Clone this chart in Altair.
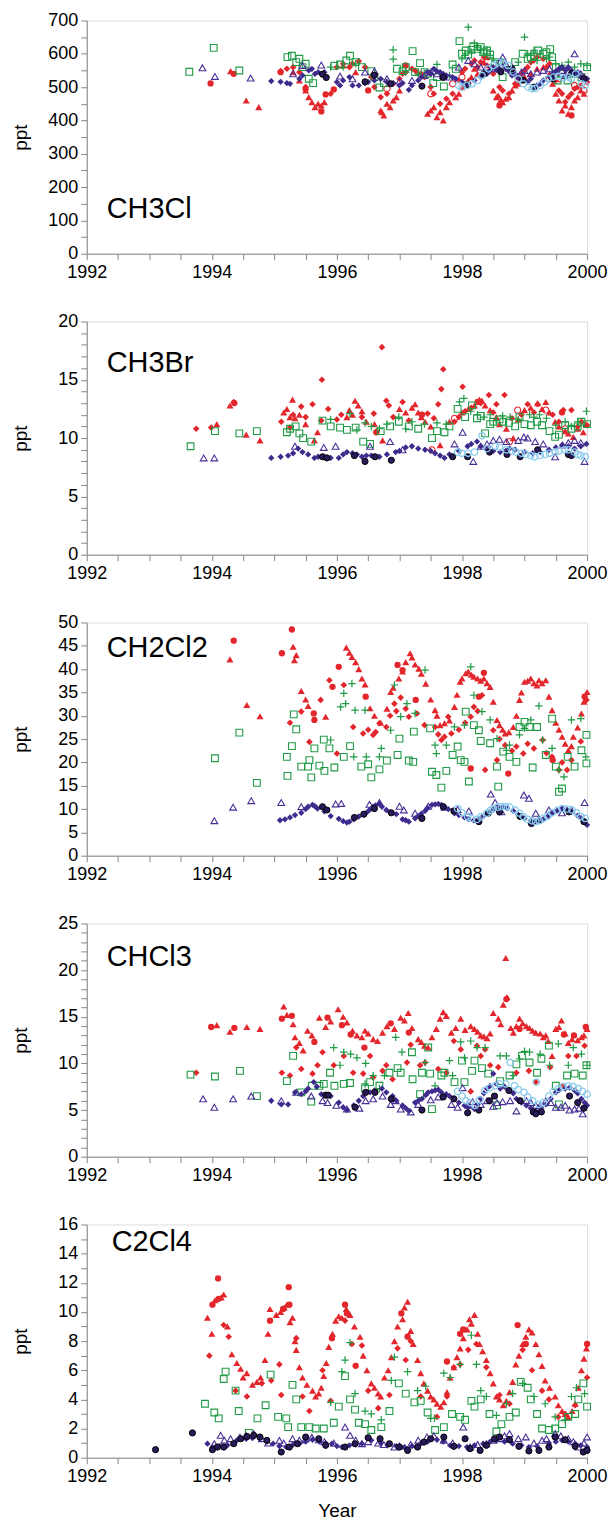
import altair as alt
import pandas as pd

FONT = "Liberation Sans"

# ---------------- CH3Cl ----------------
CH3Cl_RT = [(1994.3,548),(1994.55,460),(1994.75,440),(1995.3,545),(1995.4,520),(1995.5,490),(1995.6,455),(1995.7,450),(1995.8,455),(1996.1,565),(1996.3,545),(1996.7,430),(1996.75,415),(1996.85,440),(1996.95,470),(1997.3,545),(1997.45,420),(1997.55,440),(1997.7,400),(1997.8,455),(1997.95,480),(1998.1,520),(1998.25,540),(1998.4,590),(1998.55,470),(1998.62,462),(1998.7,465),(1998.9,510),(1999.1,540),(1999.3,560),(1999.5,480),(1999.6,430),(1999.65,445),(1999.8,460),(1999.95,480),
            (1995.55,470),(1995.65,440),(1995.75,445),(1996.72,425),(1996.8,450),(1996.9,460),(1997.0,490),(1997.5,430),(1997.6,410),(1997.65,425),(1997.75,440),(1997.9,470),(1998.0,500),(1998.05,510),(1998.15,530),(1998.2,555),(1998.35,575),(1998.5,490),(1998.58,475),(1998.65,455),(1998.75,470),(1998.8,490),(1998.85,505),(1999.0,530),(1999.2,555),(1999.4,540),(1999.45,510),(1999.55,460),(1999.7,420),(1999.75,440),(1999.85,470),(1999.9,490)]
CH3Cl_RD = [(1995.1,548),(1995.3,560),(1995.5,500),(1995.9,480),(1996.0,560),(1996.2,560),(1996.35,578),(1996.45,560),(1996.6,500),(1996.8,480),(1996.9,510),(1997.05,540),(1997.2,555),(1997.35,540),(1997.5,500),(1997.65,450),(1997.85,480),(1998.0,545),(1998.15,570),(1998.3,575),(1998.45,560),(1998.6,500),(1998.75,480),(1998.95,540),(1999.05,560),(1999.2,590),(1999.4,570),(1999.55,490),(1999.7,470),(1999.85,500),(2000.0,515),
            (1995.2,555),(1995.4,545),(1996.1,570),(1996.25,570),(1996.55,530),(1996.7,470),(1997.0,525),(1997.1,545),(1997.25,550),(1997.4,530),(1997.55,480),(1997.75,465),(1997.95,520),(1998.05,555),(1998.2,580),(1998.25,560),(1998.35,590),(1998.4,565),(1998.5,540),(1998.65,490),(1998.85,510),(1999.0,550),(1999.1,575),(1999.15,580),(1999.3,585),(1999.35,560),(1999.5,520),(1999.6,480),(1999.65,455),(1999.75,480),(1999.8,495),(1999.9,505)]
CH3Cl_RC = [(1993.98,511),(1994.35,540),(1995.1,545),(1995.5,495),(1995.75,427),(1995.82,478),(1995.95,493),(1996.5,490),(1997.1,565),(1998.6,445),(1999.75,415)]
CH3Cl_RO = [(1996.8,495),(1997.5,480),(1997.85,510),(1998.0,530),(1998.9,530),(1999.4,525),(1999.55,525),(1999.8,505),(1999.95,490)]
CH3Cl_GS = [(1993.64,546),(1994.03,618),(1994.44,550),(1995.21,590),(1995.28,594),(1995.35,575),(1995.45,560),(1995.55,525),(1995.62,512),(1995.96,564),(1996.05,568),(1996.21,594),(1996.3,575),(1996.4,560),(1996.55,548),(1996.68,499),(1996.75,512),(1996.96,555),(1997.05,548),(1997.21,608),(1997.25,545),(1997.33,572),(1997.45,540),(1997.54,512),(1997.6,530),(1997.71,502),(1997.85,568),(1997.9,555),(1997.96,638),(1998.06,610),(1998.1,598),(1998.18,622),(1998.25,615),(1998.34,605),(1998.45,598),(1998.53,570),(1998.65,530),(1998.85,575),(1998.97,600),(1999.05,585),(1999.15,595),(1999.22,610),(1999.3,600),(1999.41,614),(1999.44,590),(1999.53,520),(1999.6,540),(1999.69,520),(1999.78,540),(1999.91,530),(2000.0,560),
            (1995.4,585),(1995.5,570),(1996.15,580),(1996.6,530),(1997.1,560),(1997.4,545),(1998.0,600),(1998.15,612),(1998.3,620),(1998.4,610),(1998.6,575),(1999.1,590),(1999.35,605),(1999.5,560)]
CH3Cl_GP = [(1995.9,560),(1996.1,560),(1996.3,570),(1996.9,612),(1996.9,584),(1997.1,545),(1997.3,540),(1997.6,568),(1997.8,535),(1998.0,585),(1998.1,680),(1998.2,632),(1998.3,612),(1998.4,612),(1998.5,585),(1998.7,560),(1998.8,540),(1998.9,575),(1999.0,650),(1999.1,595),(1999.2,580),(1999.35,585),(1999.5,570),(1999.7,575),(1999.8,560),(1999.9,570),(2000.0,565),
            (1998.05,595),(1998.15,605),(1998.25,620),(1998.35,600),(1998.45,595),(1999.05,600),(1999.15,610),(1999.25,600),(1999.4,590),(1999.6,565)]
CH3Cl_PT = [(1993.85,558),(1994.05,532),(1994.62,527),(1995.3,540),(1995.45,565),(1995.75,566),(1996.05,533),(1996.25,525),(1996.45,545),(1996.6,548),(1996.8,525),(1997.0,518),(1997.2,520),(1997.4,535),(1997.6,540),(1997.8,530),(1997.95,560),(1998.1,580),(1998.3,560),(1998.5,555),(1998.65,590),(1998.8,560),(1998.95,545),(1999.1,540),(1999.3,550),(1999.5,545),(1999.65,535),(1999.8,600),(1999.95,530),
            (1997.5,545),(1997.7,535),(1998.2,570),(1998.4,560),(1998.6,575),(1998.7,570),(1999.0,550),(1999.2,545),(1999.4,555),(1999.6,550),(1999.7,545),(1999.9,540)]
CH3Cl_PD = [(1994.95,518),(1995.1,516),(1995.2,512),(1995.25,510),(1995.4,525),(1995.55,550),(1995.65,540),(1995.8,545),(1996.05,505),(1996.2,530),(1996.25,505),(1996.35,505),(1996.45,512),(1996.6,520),(1996.9,512),(1997.05,512),(1997.15,492),(1997.3,520),(1997.5,540),(1997.6,548),(1997.75,535),(1997.9,525),(1998.05,505),(1998.2,520),(1998.4,540),(1998.55,552),(1998.7,555),(1998.85,540),(1999.0,520),(1999.1,525),(1999.25,510),(1999.4,530),(1999.55,555),(1999.7,560),(1999.85,545),(2000.0,525),
            (1995.45,535),(1995.6,555),(1995.7,545),(1996.0,515),(1996.1,520),(1996.5,515),(1996.7,525),(1996.8,515),(1997.0,505),(1997.2,505),(1997.35,530),(1997.45,545),(1997.55,555),(1997.65,545),(1997.7,540),(1997.85,530),(1998.0,515),(1998.1,510),(1998.3,530),(1998.45,550),(1998.5,560),(1998.6,555),(1998.75,548),(1998.8,535),(1998.9,528),(1999.05,515),(1999.2,505),(1999.3,520),(1999.45,540),(1999.5,548),(1999.6,560),(1999.65,552),(1999.75,550),(1999.8,540),(1999.9,530),(1999.95,520)]
CH3Cl_KC = [(1995.77,539),(1995.83,529),(1996.45,516),(1996.6,536),(1996.86,510),(1997.36,503),(1997.7,529),(1998.09,507),(1998.35,540),(1998.62,546),(1998.8,555),(1998.97,521),(1999.15,500),(1999.45,525),(1999.75,540),(1999.95,525)]
CH3Cl_LB = [(1997.95,505),(1998.0,500),(1998.08,505),(1998.16,510),(1998.25,520),(1998.32,535),(1998.42,555),(1998.5,565),(1998.58,575),(1998.66,572),(1998.74,565),(1998.82,545),(1998.9,525),(1998.98,510),(1999.06,500),(1999.12,495),(1999.17,496),(1999.25,505),(1999.32,515),(1999.38,525),(1999.46,530),(1999.54,532),(1999.62,528),(1999.7,530),(1999.75,525),(1999.82,540),(1999.91,510),(1999.97,505)]

# ---------------- CH3Br ----------------
CH3Br_RT = [(1994.08,11.2),(1994.29,12.8),(1994.55,10.3),(1994.77,9.8),(1995.15,12.2),(1995.29,13.3),(1995.33,11.7),(1995.64,9.8),(1995.69,10.5),(1996.16,11.8),(1996.29,13.2),(1996.34,12.8),(1996.47,11.4),(1996.73,9.8),(1997.25,12.9),(1997.3,12.2),(1997.41,11.4),(1997.65,9.4),(1998.32,13.2),(1998.37,12.8),(1998.71,10.8),(1998.82,10.0),(1999.21,13.0),(1999.34,13.1),(1999.49,11.4),(1999.78,10.1),(1999.94,10.5),
            (1995.2,12.5),(1995.25,11.8),(1995.4,12.0),(1995.5,11.2),(1996.2,12.4),(1996.25,12.0),(1996.4,12.3),(1996.6,11.2),(1997.0,12.5),(1997.1,12.2),(1997.2,12.6),(1997.35,11.8),(1997.5,11.0),(1997.8,11.4),(1998.0,12.2),(1998.1,12.5),(1998.2,12.8),(1998.28,13.3),(1998.45,12.4),(1998.55,11.8),(1998.6,11.2),(1998.9,11.6),(1999.0,12.4),(1999.1,12.6),(1999.28,12.5),(1999.4,12.2),(1999.55,11.0),(1999.65,10.6),(1999.7,10.4),(1999.85,10.8),(1999.98,11.2)]
CH3Br_RD = [(1993.75,10.8),(1993.99,10.9),(1994.35,13.1),(1995.11,11.4),(1995.25,10.9),(1995.43,12.7),(1995.61,12.9),(1995.75,11.5),(1995.76,15.0),(1995.86,12.5),(1996.07,12.0),(1996.59,12.1),(1996.72,17.8),(1996.79,13.2),(1996.83,12.8),(1997.05,13.1),(1997.62,12.9),(1997.67,14.2),(1997.7,15.9),(1997.88,11.4),(1998.01,14.4),(1998.43,13.7),(1998.68,13.7),(1999.05,12.9),(1999.21,12.9),(1999.62,12.4),(1999.75,12.4),(1999.91,11.4),(2000.0,11.1),
            (1995.3,12.0),(1995.5,11.8),(1996.0,11.6),(1996.4,11.8),(1996.9,11.8),(1997.15,11.5),(1997.45,12.1),(1997.55,11.7),(1997.95,11.8),(1998.05,12.3),(1998.15,12.6),(1998.3,13.0),(1998.5,12.2),(1998.55,12.9),(1998.8,11.7),(1998.95,12.0),(1999.15,12.2),(1999.45,12.0),(1999.55,11.4),(1999.85,11.0)]
CH3Br_RC = [(1994.36,13.0),(1996.63,10.5),(1997.36,12.0),(1998.25,13.1),(1999.6,12.2)]
CH3Br_RO = [(1997.52,9.0),(1997.88,11.7),(1998.76,9.7),(1998.89,12.4),(1999.34,12.4),(1999.65,10.8)]
CH3Br_GS = [(1993.66,9.3),(1994.05,10.6),(1994.44,10.4),(1994.72,10.6),(1995.2,10.5),(1995.34,11.0),(1995.46,10.0),(1995.59,9.7),(1995.77,11.5),(1996.16,10.7),(1996.42,9.7),(1996.53,9.5),(1996.99,11.4),(1997.52,10.0),(1997.72,10.5),(1997.93,12.5),(1998.16,12.8),(1998.24,11.7),(1998.37,10.4),(1998.5,11.4),(1998.66,11.4),(1998.92,11.8),(1999.1,11.1),(1999.28,11.1),(1999.49,10.1),(1999.65,11.1),(1999.91,11.4),(2000.0,11.2),
            (1995.25,10.8),(1995.4,10.4),(1995.9,11.0),(1996.05,10.9),(1996.3,10.9),(1996.7,10.6),(1996.85,11.0),(1997.15,11.0),(1997.3,10.8),(1997.6,10.6),(1997.8,11.0),(1998.05,11.8),(1998.3,11.9),(1998.45,11.2),(1998.6,11.6),(1998.75,11.3),(1998.85,11.0),(1999.0,11.2),(1999.2,11.4),(1999.4,10.6),(1999.55,10.3),(1999.75,10.8),(1999.85,11.0)]
CH3Br_GP = [(1995.9,11.6),(1996.21,12.1),(1996.32,10.7),(1996.68,10.8),(1996.99,11.8),(1997.1,10.8),(1997.96,13.1),(1998.03,13.4),(1998.14,12.3),(1998.45,12.0),(1998.77,11.8),(1999.08,12.0),(1999.24,12.0),(1999.5,11.1),(1999.65,11.4),(1999.99,12.3),
            (1996.45,11.3),(1996.55,11.0),(1996.8,11.2),(1997.2,11.4),(1997.4,11.2),(1997.6,11.3),(1997.75,11.2),(1998.25,12.0),(1998.35,11.8),(1998.55,11.5),(1998.65,11.9),(1998.9,11.6),(1999.15,11.8),(1999.35,11.7),(1999.75,11.0),(1999.85,11.4)]
CH3Br_PT = [(1993.87,8.3),(1994.04,8.3),(1995.33,9.3),(1995.79,9.2),(1995.98,9.3),(1996.53,9.3),(1996.85,9.7),(1997.05,9.0),(1997.88,9.5),(1998.01,10.5),(1998.18,8.0),(1998.3,9.3),(1998.5,9.8),(1998.71,9.7),(1998.99,10.1),(1999.17,9.7),(1999.49,8.4),(1999.61,9.4),(1999.8,9.8),(1999.96,8.0),
            (1998.4,9.5),(1998.6,9.9),(1998.9,9.8),(1999.05,10.0),(1999.3,9.5),(1999.7,9.6),(1999.9,9.6)]
CH3Br_PD = [(1994.95,8.3),(1995.1,8.4),(1995.22,8.5),(1995.38,9.1),(1995.54,8.6),(1995.64,8.3),(1996.03,8.3),(1996.16,8.8),(1996.32,8.6),(1996.47,8.5),(1996.68,8.4),(1996.94,8.8),(1997.2,9.3),(1997.41,9.0),(1997.57,8.7),(1997.72,8.3),(1998.09,9.3),(1998.24,9.7),(1998.4,9.0),(1998.61,8.8),(1998.76,9.1),(1999.13,8.7),(1999.39,9.0),(1999.6,9.4),(1999.8,9.1),(1999.99,9.5),
            (1995.3,8.7),(1995.45,8.8),(1995.7,8.4),(1995.9,8.3),(1996.1,8.6),(1996.25,8.7),(1996.4,8.4),(1996.55,8.5),(1996.8,8.6),(1997.0,8.9),(1997.1,9.2),(1997.3,9.1),(1997.5,8.9),(1997.65,8.5),(1997.8,8.6),(1997.95,8.9),(1998.15,9.5),(1998.3,9.3),(1998.5,8.9),(1998.7,8.9),(1998.85,9.0),(1999.0,8.8),(1999.25,8.8),(1999.5,9.2),(1999.7,9.3),(1999.9,9.3)]
CH3Br_KC = [(1995.77,8.4),(1995.84,8.3),(1996.28,8.5),(1996.45,8.0),(1996.61,8.4),(1996.87,8.1),(1997.85,8.4),(1998.09,8.4),(1998.44,8.8),(1998.72,8.6),(1998.93,8.4),(1999.21,9.0),(1999.7,8.6),(1999.75,8.5)]
CH3Br_LB = [(1997.93,8.8),(1998.1,8.7),(1998.32,10.2),(1998.53,9.3),(1998.71,9.0),(1998.86,8.8),(1999.02,8.6),(1999.16,8.4),(1999.33,8.6),(1999.49,8.8),(1999.64,9.0),(1999.8,8.8),(1999.9,8.5),
            (1998.0,8.7),(1998.2,8.8),(1998.4,9.1),(1998.6,9.2),(1998.8,8.9),(1998.95,8.7),(1999.1,8.5),(1999.25,8.5),(1999.4,8.7),(1999.55,8.9),(1999.7,9.0),(1999.85,8.6),(1999.97,8.4)]

# ---------------- CH2Cl2 ----------------
CH2Cl2_RT = [(1994.29,42.1),(1994.56,32.3),(1994.77,29.9),(1995.3,44.8),(1995.32,41.9),(1995.43,35.3),(1995.54,32.1),(1995.82,29.8),(1996.15,44.6),(1996.24,42.6),(1996.45,36.7),(1996.53,31.6),(1996.86,35.1),(1996.99,38.0),(1997.17,43.4),(1997.31,40.1),(1997.42,36.9),(1997.57,31.2),(1997.72,28.4),(1997.88,31.9),(1997.97,37.3),(1998.06,39.1),(1998.19,38.4),(1998.35,38.0),(1998.45,36.2),(1998.56,29.1),(1998.69,26.2),(1998.82,27.6),(1998.92,33.4),(1999.0,37.3),(1999.1,38.0),(1999.23,37.6),(1999.34,37.6),(1999.39,34.1),(1999.44,31.2),(1999.6,25.5),(1999.7,22.6),(1999.78,25.5),(1999.91,30.5),(2000.0,35.1),
             (1995.35,43.0),(1995.5,33.5),(1996.2,43.5),(1996.3,41.5),(1996.35,40.0),(1996.4,38.0),(1996.6,30.0),(1996.7,28.5),(1996.8,31.5),(1996.9,36.0),(1997.05,39.5),(1997.1,41.5),(1997.2,42.5),(1997.25,41.0),(1997.35,39.0),(1997.5,33.5),(1997.6,30.0),(1997.65,28.0),(1997.8,29.0),(1997.92,34.5),(1998.0,38.0),(1998.1,39.5),(1998.15,38.8),(1998.25,38.0),(1998.3,37.5),(1998.4,37.0),(1998.5,33.0),(1998.6,28.0),(1998.65,27.0),(1998.75,26.5),(1998.87,30.0),(1998.95,35.0),(1999.05,37.5),(1999.15,37.0),(1999.2,36.5),(1999.28,37.0),(1999.5,28.5),(1999.55,27.0),(1999.65,24.0),(1999.75,23.5),(1999.85,27.5),(1999.95,33.0)]
CH2Cl2_RD = [(1995.25,28.5),(1995.43,30.9),(1995.56,24.4),(1995.74,33.4),(1995.88,37.6),(1996.0,21.9),(1996.11,36.6),(1996.26,27.6),(1996.42,26.2),(1996.58,25.9),(1996.68,28.4),(1996.79,27.6),(1996.92,32.6),(1997.02,33.9),(1997.15,29.8),(1997.28,30.5),(1997.57,27.6),(1997.67,24.8),(1997.78,29.8),(1997.83,26.2),(1998.14,29.8),(1998.19,31.9),(1998.32,34.4),(1998.37,18.4),(1998.5,26.9),(1998.56,20.5),(1998.69,23.7),(1998.87,23.4),(1998.98,21.9),(1999.29,24.8),(1999.44,21.2),(1999.55,18.4),(1999.68,18.4),(1999.99,33.4),
             (1996.5,27.0),(1996.62,26.5),(1996.85,30.0),(1996.95,31.0),(1997.1,31.5),(1997.4,28.0),(1997.62,26.0),(1997.72,25.5),(1997.95,27.0),(1998.05,28.5),(1998.25,31.0),(1998.6,25.0),(1998.8,22.5),(1999.05,24.0),(1999.15,23.0),(1999.35,22.0),(1999.6,20.0),(1999.75,20.5),(1999.9,24.5)]
CH2Cl2_RC = [(1994.35,46.1),(1995.12,43.4),(1995.28,48.5),(1995.63,30.5),(1995.64,29.1),(1995.93,36.2),(1996.03,40.5),(1996.46,34.1),(1996.97,40.9),(1997.05,39.8),(1997.26,33.4),(1998.14,18.7),(1998.27,34.1),(1998.35,39.2),(1998.74,17.6),(1999.45,20.5),(1999.96,34.1)]
CH2Cl2_GS = [(1994.05,20.9),(1994.44,26.4),(1994.72,15.6),(1995.2,21.2),(1995.21,17.1),(1995.28,23.5),(1995.31,30.3),(1995.35,27.1),(1995.43,19.1),(1995.54,19.1),(1995.56,20.5),(1995.59,16.8),(1995.64,23.0),(1995.72,19.3),(1995.79,24.9),(1995.8,18.2),(1995.88,23.0),(1995.96,18.9),(1996.11,21.2),(1996.21,23.5),(1996.39,19.1),(1996.5,19.6),(1996.55,16.8),(1996.68,18.5),(1996.8,20.4),(1996.97,21.6),(1997.0,25.1),(1997.15,20.4),(1997.22,20.1),(1997.23,26.6),(1997.49,27.3),(1997.52,18.0),(1997.59,17.3),(1997.67,14.6),(1997.75,18.2),(1997.85,21.6),(1997.93,23.4),(1997.98,20.5),(1998.04,20.1),(1998.06,30.9),(1998.11,15.9),(1998.19,28.0),(1998.27,26.9),(1998.3,24.6),(1998.45,24.1),(1998.56,19.1),(1998.58,14.8),(1998.66,22.3),(1998.76,21.2),(1998.87,20.1),(1998.92,27.6),(1999.0,28.7),(1999.08,27.6),(1999.13,18.9),(1999.2,27.6),(1999.34,21.6),(1999.44,29.4),(1999.5,19.1),(1999.55,13.7),(1999.6,14.4),(1999.69,21.2),(1999.8,19.1),(1999.91,22.6),(1999.99,25.9),(1999.99,19.8)]
CH2Cl2_GP = [(1995.9,24.8),(1996.06,31.9),(1996.11,34.8),(1996.14,32.6),(1996.24,36.9),(1996.27,21.2),(1996.29,31.2),(1996.45,31.2),(1996.47,21.2),(1996.68,21.2),(1996.71,23.0),(1996.86,26.9),(1996.92,36.6),(1997.02,29.8),(1997.12,32.6),(1997.25,30.5),(1997.41,39.8),(1997.57,23.7),(1997.59,21.9),(1997.75,23.7),(1997.88,27.6),(1998.04,28.0),(1998.14,40.5),(1998.19,34.4),(1998.32,30.9),(1998.45,29.1),(1998.56,25.1),(1998.71,22.6),(1998.76,23.7),(1998.92,25.9),(1999.0,27.3),(1999.1,29.1),(1999.23,32.1),(1999.29,24.8),(1999.44,23.0),(1999.55,18.4),(1999.63,16.9),(1999.75,29.1),(1999.9,29.4),(1999.98,21.2)]
CH2Cl2_PT = [(1994.04,7.5),(1994.34,10.4),(1994.63,11.8),(1995.11,11.4),(1995.43,10.5),(1995.98,11.1),(1996.07,11.2),(1996.52,11.0),(1996.68,11.4),(1997.0,10.6),(1997.07,9.8),(1997.25,9.1),(1997.46,10.6),(1997.72,10.4),(1997.93,9.9),(1998.11,9.6),(1998.46,13.2),(1998.53,11.4),(1998.63,9.4),(1998.99,13.0),(1999.07,12.3),(1999.18,9.1),(1999.39,9.8),(1999.6,9.2),(1999.75,9.8),(1999.96,11.4)]
CH2Cl2_PD = [(1995.09,7.6),(1995.17,7.8),(1995.25,8.2),(1995.33,8.7),(1995.43,9.2),(1995.54,10.5),(1995.61,10.9),(1995.69,10.1),(1996.03,7.9),(1996.16,7.1),(1996.27,7.8),(1996.47,9.2),(1996.58,10.5),(1996.68,11.1),(1996.79,9.8),(1996.95,8.9),(1997.15,7.3),(1997.25,8.0),(1997.41,9.6),(1997.52,10.9),(1997.62,11.1),(1997.72,10.5),(1997.88,9.1),(1998.04,8.2),(1998.19,7.6),(1998.34,8.5),(1998.5,9.9),(1998.66,10.5),(1998.82,9.6),(1999.0,8.0),(1999.17,7.3),(1999.3,7.8),(1999.44,9.1),(1999.6,10.1),(1999.75,9.4),(1999.91,8.0),(2000.0,6.6),
             (1995.5,10.0),(1995.65,10.6),(1995.8,9.5),(1995.9,8.5),(1996.1,7.4),(1996.2,7.3),(1996.35,8.4),(1996.52,9.8),(1996.62,10.8),(1996.72,10.5),(1996.85,9.3),(1997.05,7.8),(1997.1,7.6),(1997.3,8.5),(1997.35,9.0),(1997.45,10.2),(1997.57,11.0),(1997.67,10.9),(1997.78,10.0),(1997.95,8.7),(1998.1,7.9),(1998.27,7.9),(1998.42,9.2),(1998.58,10.3),(1998.72,10.2),(1998.9,8.8),(1999.1,7.5),(1999.24,7.5),(1999.38,8.5),(1999.52,9.6),(1999.68,9.8),(1999.85,8.6),(1999.95,7.3)]
CH2Cl2_KC = [(1995.77,10.5),(1995.84,9.8),(1996.28,8.2),(1996.43,8.9),(1996.6,10.1),(1996.87,9.2),(1997.36,8.0),(1997.7,10.5),(1997.87,9.6),(1998.27,7.3),(1998.42,9.1),(1998.6,9.4),(1998.93,8.4),(1999.11,6.9),(1999.24,7.6),(1999.71,9.4),(1999.95,7.3)]
CH2Cl2_LB = [(1997.93,10.1),(1998.09,8.4),(1998.24,7.8),(1998.4,9.1),(1998.5,10.1),(1998.63,10.5),(1998.76,10.4),(1998.92,9.1),(1999.05,7.8),(1999.18,7.3),(1999.3,8.0),(1999.44,9.2),(1999.6,10.1),(1999.76,9.8),(1999.9,8.4),
             (1998.0,9.2),(1998.15,8.0),(1998.3,8.3),(1998.45,9.7),(1998.57,10.4),(1998.7,10.5),(1998.85,9.8),(1998.98,8.4),(1999.12,7.5),(1999.24,7.5),(1999.37,8.5),(1999.52,9.7),(1999.68,10.0),(1999.83,9.2),(1999.97,8.0)]

# ---------------- CHCl3 ----------------
CHCl3_RT = [(1994.08,14.1),(1994.29,13.4),(1994.56,13.9),(1994.77,13.7),(1995.15,16.1),(1995.3,14.2),(1995.33,12.8),(1995.46,11.4),(1995.53,13.5),(1995.72,14.9),(1995.82,13.9),(1996.02,15.8),(1996.16,14.4),(1996.32,13.0),(1996.45,13.5),(1996.58,12.6),(1996.73,13.3),(1996.92,13.7),(1997.02,14.9),(1997.14,15.4),(1997.3,12.6),(1997.46,11.7),(1997.59,13.7),(1997.7,15.5),(1997.75,15.1),(1997.83,13.3),(1997.98,14.8),(1998.14,14.0),(1998.3,13.0),(1998.5,15.4),(1998.58,14.8),(1998.66,16.3),(1998.7,21.3),(1998.72,17.1),(1998.82,13.3),(1998.92,14.8),(1999.03,14.0),(1999.18,13.3),(1999.34,13.0),(1999.44,10.8),(1999.5,13.7),(1999.59,14.6),(1999.76,12.6),(1999.91,12.8),(2000.0,13.7),
            (1995.2,15.2),(1995.4,12.2),(1995.6,13.0),(1995.9,14.5),(1996.1,15.0),(1996.25,13.5),(1996.4,12.8),(1996.5,13.2),(1996.65,12.4),(1996.8,14.0),(1997.08,14.6),(1997.2,13.8),(1997.35,12.3),(1997.4,11.9),(1997.52,12.8),(1997.65,14.8),(1997.9,13.8),(1998.05,13.6),(1998.2,13.7),(1998.25,13.4),(1998.35,12.9),(1998.4,12.7),(1998.45,13.2),(1998.62,14.2),(1998.78,13.8),(1998.87,14.0),(1998.97,14.3),(1999.08,13.8),(1999.13,13.5),(1999.25,13.2),(1999.3,12.8),(1999.38,12.4),(1999.55,13.9),(1999.65,13.2),(1999.7,12.2),(1999.85,12.5),(1999.95,13.0)]
CHCl3_RD = [(1993.75,9.0),(1995.12,9.0),(1995.25,8.7),(1995.35,11.7),(1995.43,9.4),(1995.61,8.9),(1995.69,9.8),(1995.77,11.2),(1995.95,9.8),(1996.11,10.8),(1996.26,9.0),(1996.42,8.9),(1996.53,10.8),(1996.58,8.5),(1996.73,9.2),(1996.79,9.8),(1996.89,8.3),(1997.12,10.1),(1997.18,12.0),(1997.33,9.8),(1997.41,10.1),(1997.62,9.4),(1997.75,9.0),(1997.87,12.4),(1997.98,11.5),(1998.14,7.0),(1998.24,11.9),(1998.3,10.8),(1998.37,11.5),(1998.45,9.8),(1998.58,9.6),(1998.75,7.1),(1998.87,9.0),(1999.07,9.2),(1999.18,8.0),(1999.41,9.6),(1999.6,7.6),(1999.7,10.8),(1999.83,10.8),(1999.96,11.9)]
CHCl3_RC = [(1993.99,13.9),(1994.36,13.8),(1995.12,14.8),(1995.28,15.1),(1995.64,12.3),(1995.85,14.9),(1996.08,14.1),(1996.22,13.1),(1996.44,11.7),(1996.86,14.3),(1997.15,13.3),(1998.71,16.9),(1998.92,13.7),(1999.63,13.1),(1999.79,13.0),(1999.98,13.9)]
CHCl3_GS = [(1993.66,8.8),(1994.05,8.6),(1994.45,9.2),(1994.72,6.5),(1995.2,8.1),(1995.3,10.8),(1995.43,6.9),(1995.59,5.9),(1995.6,7.6),(1995.72,7.6),(1995.79,7.8),(1995.89,9.0),(1995.96,7.6),(1996.11,7.8),(1996.21,7.9),(1996.45,7.3),(1996.53,8.0),(1996.68,7.6),(1996.84,9.0),(1996.97,9.5),(1997.02,9.0),(1997.2,11.2),(1997.21,8.3),(1997.33,6.7),(1997.36,9.0),(1997.46,11.7),(1997.49,8.9),(1997.52,5.1),(1997.67,8.7),(1997.72,9.0),(1997.88,8.0),(1998.0,10.3),(1998.04,8.0),(1998.16,9.2),(1998.2,10.3),(1998.32,9.5),(1998.42,8.9),(1998.56,5.5),(1998.61,8.1),(1998.76,8.7),(1998.87,9.9),(1998.96,10.8),(1999.08,10.1),(1999.2,9.0),(1999.27,10.5),(1999.39,11.9),(1999.5,7.6),(1999.55,5.6),(1999.68,8.7),(1999.8,8.9),(1999.93,8.7),(1999.99,9.8)]
CHCl3_GP = [(1995.95,11.7),(1996.05,9.8),(1996.11,11.2),(1996.22,11.0),(1996.32,10.6),(1996.45,7.8),(1996.46,10.0),(1996.58,8.7),(1996.68,7.3),(1996.76,8.7),(1996.94,12.8),(1997.04,11.2),(1997.41,10.1),(1997.57,7.6),(1997.8,10.3),(1997.85,8.7),(1997.98,12.3),(1998.04,10.6),(1998.14,12.4),(1998.24,11.7),(1998.37,11.7),(1998.61,10.8),(1998.71,10.8),(1998.82,8.7),(1998.92,10.5),(1999.0,11.3),(1999.08,11.2),(1999.25,11.0),(1999.4,9.8),(1999.54,12.1),(1999.7,9.8),(1999.78,11.7),(1999.91,11.0),(2000.0,9.8)]
CHCl3_PT = [(1993.86,6.2),(1994.04,5.3),(1994.34,6.2),(1994.63,6.5),(1995.11,6.0),(1995.35,6.9),(1995.59,6.5),(1995.77,6.0),(1995.85,5.8),(1995.99,5.5),(1996.16,5.1),(1996.36,5.2),(1996.46,6.0),(1996.58,6.2),(1996.73,6.5),(1996.86,5.6),(1996.94,6.0),(1997.02,5.1),(1997.18,4.8),(1997.3,5.6),(1997.5,6.1),(1997.62,6.4),(1997.83,5.6),(1997.93,5.3),(1998.01,7.4),(1998.17,5.9),(1998.4,6.0),(1998.56,5.8),(1998.77,6.0),(1998.87,4.9),(1999.03,6.0),(1999.18,5.5),(1999.34,6.0),(1999.5,5.3),(1999.65,5.5),(1999.8,5.1),(1999.93,4.6),
            (1998.1,5.5),(1998.3,5.6),(1998.5,5.4),(1998.65,5.9),(1999.1,5.8),(1999.25,5.5),(1999.42,5.8),(1999.58,5.3),(1999.72,5.0),(1999.87,5.2)]
CHCl3_PD = [(1994.95,6.0),(1995.11,5.6),(1995.22,5.6),(1995.33,6.9),(1995.43,6.7),(1995.54,7.3),(1995.63,8.0),(1995.75,6.7),(1995.9,6.5),(1996.03,5.8),(1996.16,5.0),(1996.27,5.5),(1996.42,6.5),(1996.53,6.9),(1996.72,7.3),(1996.79,6.9),(1996.89,6.5),(1997.05,5.5),(1997.15,4.9),(1997.25,5.8),(1997.36,6.2),(1997.46,6.9),(1997.57,7.1),(1997.67,6.9),(1997.75,6.7),(1997.88,6.2),(1998.04,5.5),(1998.2,5.1),(1998.3,6.2),(1998.4,7.3),(1998.5,8.9),(1998.61,7.3),(1998.76,7.1),(1998.87,6.2),(1999.03,5.5),(1999.18,4.9),(1999.34,5.6),(1999.5,6.9),(1999.65,7.3),(1999.8,7.1),(1999.91,6.2),(2000.0,5.5),
            (1995.5,7.0),(1995.68,7.5),(1995.82,6.6),(1996.1,5.3),(1996.35,6.0),(1996.6,7.1),(1996.95,6.0),(1997.1,5.2),(1997.3,6.0),(1997.42,6.6),(1997.52,7.0),(1997.62,7.2),(1997.8,6.5),(1997.95,5.8),(1998.1,5.3),(1998.25,5.6),(1998.35,6.8),(1998.45,7.6),(1998.55,7.8),(1998.68,7.5),(1998.82,6.8),(1998.95,5.8),(1999.1,5.2),(1999.25,5.2),(1999.42,6.2),(1999.55,7.1),(1999.72,7.4),(1999.85,6.8),(1999.96,5.8)]
CHCl3_KC = [(1995.82,6.6),(1995.86,6.6),(1996.29,5.3),(1996.46,6.9),(1996.61,6.9),(1996.87,6.2),(1997.36,5.0),(1997.7,6.4),(1997.87,6.2),(1998.09,4.7),(1998.27,5.0),(1998.44,6.0),(1998.52,6.5),(1998.75,7.1),(1998.93,6.0),(1999.14,4.8),(1999.18,4.6),(1999.27,4.8),(1999.72,6.5),(1999.85,5.8),(1999.95,5.2)]
CHCl3_LB = [(1997.93,7.0),(1998.06,6.0),(1998.21,5.5),(1998.37,7.1),(1998.53,7.6),(1998.7,7.8),(1998.77,10.1),(1998.84,7.6),(1998.99,6.9),(1999.13,6.0),(1999.19,8.0),(1999.23,5.6),(1999.39,6.5),(1999.55,7.3),(1999.7,7.6),(1999.86,7.3),(2000.0,6.7),
            (1998.0,6.5),(1998.13,5.8),(1998.28,6.1),(1998.45,7.4),(1998.6,7.8),(1998.9,7.2),(1999.05,6.4),(1999.3,5.8),(1999.46,7.0),(1999.62,7.5),(1999.78,7.5),(1999.93,7.0)]

# ---------------- C2Cl4 ----------------
C2Cl4_RT = [(1993.93,9.6),(1994.19,11.2),(1994.32,7.1),(1994.46,6.1),(1994.56,5.8),(1994.72,5.2),(1994.85,6.7),(1994.93,10.2),(1995.03,9.8),(1995.16,10.3),(1995.29,9.6),(1995.35,7.4),(1995.4,6.2),(1995.61,4.6),(1995.71,4.4),(1995.79,5.6),(1995.87,7.6),(1995.98,9.4),(1996.08,9.6),(1996.21,9.8),(1996.37,8.3),(1996.48,6.0),(1996.55,5.1),(1996.66,4.4),(1996.76,5.5),(1996.87,6.9),(1996.97,9.0),(1997.13,10.7),(1997.18,8.7),(1997.29,6.7),(1997.39,5.1),(1997.5,4.2),(1997.6,3.7),(1997.71,3.8),(1997.81,5.5),(1997.92,6.9),(1998.02,8.2),(1998.15,9.2),(1998.2,9.8),(1998.28,7.8),(1998.39,6.7),(1998.5,5.1),(1998.55,4.2),(1998.71,3.9),(1998.76,4.5),(1998.86,6.4),(1998.97,7.8),(1999.12,8.6),(1999.23,7.1),(1999.33,5.3),(1999.49,4.2),(1999.6,3.2),(1999.7,2.8),(1999.81,3.7),(1999.91,6.0),(1999.99,7.5),
            (1994.0,8.5),(1994.05,10.8),(1994.15,11.0),(1994.25,9.0),(1994.4,6.5),(1994.5,5.5),(1994.65,5.0),(1994.78,5.5),(1994.9,8.5),(1995.1,10.0),(1995.2,10.5),(1995.25,9.3),(1995.33,8.0),(1995.45,5.5),(1995.52,5.0),(1995.66,4.2),(1995.75,4.8),(1995.83,6.5),(1995.93,8.5),(1996.03,9.7),(1996.15,10.2),(1996.28,9.0),(1996.42,7.0),(1996.6,4.8),(1996.7,4.2),(1996.82,6.0),(1996.92,8.0),(1997.05,9.5),(1997.08,10.3),(1997.22,7.8),(1997.34,5.8),(1997.45,4.6),(1997.55,4.0),(1997.66,3.5),(1997.76,4.5),(1997.87,6.2),(1997.97,7.5),(1998.08,8.8),(1998.12,9.5),(1998.25,8.5),(1998.33,7.3),(1998.45,5.8),(1998.6,4.0),(1998.66,3.6),(1998.81,5.2),(1998.91,7.0),(1999.02,8.3),(1999.07,8.8),(1999.18,7.8),(1999.28,6.3),(1999.4,4.8),(1999.54,3.6),(1999.65,3.0),(1999.76,3.2),(1999.86,4.8),(1999.95,6.8)]
C2Cl4_RD = [(1993.96,7.0),(1994.19,9.1),(1994.27,8.3),(1994.38,4.6),(1994.56,4.2),(1994.8,5.1),(1994.95,5.3),(1995.08,6.4),(1995.11,4.3),(1995.35,8.2),(1995.45,4.2),(1995.56,3.2),(1995.77,6.0),(1995.9,3.9),(1996.13,9.4),(1996.24,7.8),(1996.4,7.7),(1996.5,4.6),(1996.66,3.4),(1996.84,4.3),(1996.97,7.5),(1997.1,6.7),(1997.18,8.0),(1997.34,4.2),(1997.6,2.8),(1997.76,4.2),(1997.87,6.2),(1997.97,6.4),(1998.1,7.4),(1998.23,7.8),(1998.39,6.2),(1998.6,4.3),(1998.76,3.7),(1998.97,7.4),(1999.12,6.0),(1999.28,4.6),(1999.39,4.0),(1999.54,2.8),(1999.65,3.0),(1999.81,3.6),(2000.0,5.5)]
C2Cl4_RC = [(1994.01,10.5),(1994.1,12.3),(1994.11,10.9),(1994.93,9.4),(1995.14,10.2),(1995.23,11.7),(1995.24,10.5),(1995.92,8.2),(1996.13,10.5),(1996.16,9.9),(1996.3,6.3),(1997.03,9.9),(1997.13,8.3),(1997.76,6.6),(1997.97,8.5),(1998.02,8.8),(1998.89,9.1),(1999.02,7.8),(2000.0,7.8)]
C2Cl4_GS = [(1993.89,3.7),(1994.04,3.1),(1994.11,2.7),(1994.19,5.4),(1994.22,5.9),(1994.38,4.6),(1994.43,3.2),(1994.59,1.7),(1994.73,2.7),(1994.86,3.6),(1994.94,5.7),(1995.06,2.8),(1995.19,2.7),(1995.22,2.1),(1995.29,5.0),(1995.35,4.0),(1995.43,2.1),(1995.56,2.1),(1995.66,2.0),(1995.79,2.0),(1995.95,2.4),(1996.03,3.5),(1996.13,5.6),(1996.21,4.0),(1996.29,3.3),(1996.35,2.4),(1996.45,2.3),(1996.55,1.9),(1996.71,2.1),(1996.84,3.2),(1996.99,5.1),(1997.1,4.4),(1997.24,3.8),(1997.34,3.9),(1997.45,3.1),(1997.57,1.9),(1997.71,2.1),(1997.84,3.0),(1997.97,2.8),(1998.05,2.6),(1998.15,3.9),(1998.2,3.5),(1998.3,4.0),(1998.44,3.0),(1998.55,1.8),(1998.63,2.3),(1998.76,2.8),(1998.86,3.1),(1998.94,5.2),(1999.05,4.8),(1999.1,4.0),(1999.2,3.0),(1999.28,2.0),(1999.39,1.9),(1999.49,2.0),(1999.6,2.3),(1999.7,2.8),(1999.81,3.0),(1999.86,4.0),(1999.94,5.1),(2000.0,3.5)]
C2Cl4_GP = [(1995.9,3.8),(1996.08,5.9),(1996.13,6.7),(1996.21,7.9),(1996.29,4.4),(1996.45,3.2),(1996.55,3.0),(1996.71,2.6),(1996.87,5.3),(1996.92,6.9),(1997.13,5.9),(1997.29,4.6),(1997.42,4.9),(1997.5,2.7),(1997.56,2.7),(1997.71,5.8),(1997.81,5.5),(1997.97,6.4),(1998.15,8.4),(1998.23,6.4),(1998.3,4.6),(1998.39,4.2),(1998.55,2.9),(1998.71,3.7),(1998.81,4.4),(1998.97,5.1),(1999.15,4.2),(1999.33,3.7),(1999.49,2.8),(1999.65,2.6),(1999.75,4.2),(1999.83,4.8),(1999.96,4.4)]
C2Cl4_PT = [(1994.04,0.96),(1994.14,1.53),(1994.3,1.3),(1994.67,1.65),(1995.08,1.19),(1995.29,1.3),(1995.5,1.3),(1995.71,1.23),(1996.13,2.1),(1996.21,1.53),(1996.4,0.96),(1996.66,1.0),(1996.92,0.73),(1997.18,0.91),(1997.44,1.42),(1997.71,1.19),(1998.02,2.1),(1998.13,0.73),(1998.39,0.96),(1998.6,1.3),(1998.76,1.65),(1999.02,1.42),(1999.28,1.19),(1999.49,1.65),(1999.7,1.3),(1999.86,0.73),(2000.0,1.42),
            (1994.2,1.2),(1994.45,1.4),(1994.55,1.5),(1994.8,1.3),(1994.9,1.0),(1995.15,1.0),(1995.4,1.2),(1995.6,1.4),(1995.8,1.1),(1995.95,1.0),(1996.3,1.2),(1996.5,1.1),(1996.75,0.9),(1997.0,0.8),(1997.3,1.2),(1997.55,1.5),(1997.85,1.0),(1998.25,0.9),(1998.5,1.2),(1998.68,1.5),(1998.9,1.3),(1999.15,1.0),(1999.35,1.3),(1999.58,1.5),(1999.78,1.1),(1999.95,1.0)]
C2Cl4_PD = [(1993.93,0.96),(1994.01,0.73),(1994.25,0.85),(1994.4,1.19),(1994.77,1.3),(1994.98,0.96),(1995.19,0.73),(1995.4,0.96),(1995.61,1.23),(1995.92,0.96),(1996.08,0.73),(1996.4,0.96),(1996.55,1.19),(1996.81,0.85),(1997.08,0.73),(1997.34,0.96),(1997.6,1.23),(1997.81,0.85),(1998.08,0.73),(1998.34,0.96),(1998.55,1.19),(1998.81,0.96),(1999.07,0.73),(1999.39,1.0),(1999.6,1.19),(1999.81,0.96),(2000.0,0.73),
            (1994.12,0.8),(1994.55,1.3),(1994.65,1.35),(1994.88,1.1),(1995.08,0.8),(1995.3,0.9),(1995.5,1.1),(1995.72,1.1),(1995.82,1.0),(1996.0,0.8),(1996.2,0.85),(1996.3,0.9),(1996.7,1.0),(1996.95,0.8),(1997.2,0.8),(1997.45,1.1),(1997.7,1.1),(1997.95,0.8),(1998.2,0.85),(1998.45,1.1),(1998.68,1.1),(1998.95,0.85),(1999.2,0.8),(1999.5,1.1),(1999.7,1.1),(1999.9,0.85)]
C2Cl4_KC = [(1993.1,0.55),(1993.69,1.7),(1994.01,0.55),(1994.09,0.73),(1994.19,0.73),(1994.35,0.96),(1994.46,1.3),(1994.56,1.46),(1994.67,1.53),(1994.77,1.42),(1994.88,1.19),(1995.11,0.39),(1995.24,0.73),(1995.37,0.96),(1995.5,1.42),(1995.71,1.3),(1995.82,0.85),(1996.13,0.73),(1996.29,0.96),(1996.5,1.37),(1996.69,1.3),(1996.84,0.96),(1997.0,0.73),(1997.13,0.5),(1997.29,0.73),(1997.39,1.07),(1997.5,1.3),(1997.71,1.42),(1997.87,0.78),(1998.05,1.3),(1998.13,0.62),(1998.29,0.5),(1998.39,0.85),(1998.52,1.3),(1998.6,1.42),(1998.76,1.23),(1998.91,0.78),(1999.07,0.46),(1999.23,0.5),(1999.39,0.73),(1999.49,1.42),(1999.65,1.23),(1999.81,0.78),(1999.94,0.39),(2000.0,0.5)]

# ---------------- panel layout texts / ticks ----------------
NAMES = ["CH3Cl", "CH3Br", "CH2Cl2", "CHCl3", "C2Cl4"]
YMAX = [700, 20, 50, 25, 16]
Y_TICKS = [
    [0, 50, 100, 150, 200, 250, 300, 350, 400, 450, 500, 550, 600, 650, 700],
    [0, 1, 2, 3, 4, 5, 6, 7, 8, 9, 10, 11, 12, 13, 14, 15, 16, 17, 18, 19, 20],
    [0, 5, 10, 15, 20, 25, 30, 35, 40, 45, 50],
    [0, 1, 2, 3, 4, 5, 6, 7, 8, 9, 10, 11, 12, 13, 14, 15, 16, 17, 18, 19, 20, 21, 22, 23, 24, 25],
    [0, 1, 2, 3, 4, 5, 6, 7, 8, 9, 10, 11, 12, 13, 14, 15, 16],
]
Y_LABEL_STEP = [100, 5, 5, 5, 2]
X_TICKS = [1992, 1992.5, 1993, 1993.5, 1994, 1994.5, 1995, 1995.5, 1996,
           1996.5, 1997, 1997.5, 1998, 1998.5, 1999, 1999.5, 2000]
LABEL_POS = [(20, 198), (20, 51), (20, 35), (20, 43), (25, 27)]

SERIES = {
    "CH3Cl": [("RT", CH3Cl_RT), ("RD", CH3Cl_RD), ("RC", CH3Cl_RC), ("RO", CH3Cl_RO), ("GS", CH3Cl_GS), ("GP", CH3Cl_GP), ("PT", CH3Cl_PT), ("PD", CH3Cl_PD), ("KC", CH3Cl_KC), ("LB", CH3Cl_LB)],
    "CH3Br": [("RT", CH3Br_RT), ("RD", CH3Br_RD), ("RC", CH3Br_RC), ("RO", CH3Br_RO), ("GS", CH3Br_GS), ("GP", CH3Br_GP), ("PT", CH3Br_PT), ("PD", CH3Br_PD), ("KC", CH3Br_KC), ("LB", CH3Br_LB)],
    "CH2Cl2": [("RT", CH2Cl2_RT), ("RD", CH2Cl2_RD), ("RC", CH2Cl2_RC), ("GS", CH2Cl2_GS), ("GP", CH2Cl2_GP), ("PT", CH2Cl2_PT), ("PD", CH2Cl2_PD), ("KC", CH2Cl2_KC), ("LB", CH2Cl2_LB)],
    "CHCl3": [("RT", CHCl3_RT), ("RD", CHCl3_RD), ("RC", CHCl3_RC), ("GS", CHCl3_GS), ("GP", CHCl3_GP), ("PT", CHCl3_PT), ("PD", CHCl3_PD), ("KC", CHCl3_KC), ("LB", CHCl3_LB)],
    "C2Cl4": [("RT", C2Cl4_RT), ("RD", C2Cl4_RD), ("RC", C2Cl4_RC), ("GS", C2Cl4_GS), ("GP", C2Cl4_GP), ("PT", C2Cl4_PT), ("PD", C2Cl4_PD), ("KC", C2Cl4_KC)],
}

RED = "#e3262c"
GREEN = "#1f9a45"
PURPLE = "#4a2f98"
DPURPLE = "#3f2b8e"
LBLUE = "#8ccdee"
PLUS = "M-1,0H1M0,-1V1"

STYLE = {
    "RT": dict(shape="triangle-up", filled=True, color=RED, size=50),
    "RD": dict(shape="diamond", filled=True, color=RED, size=44),
    "RC": dict(shape="circle", filled=True, color=RED, size=40),
    "RO": dict(shape="circle", filled=False, color=RED, size=38, strokeWidth=1.1),
    "GS": dict(shape="square", filled=False, color=GREEN, size=46, strokeWidth=1.1),
    "GP": dict(shape=PLUS, filled=False, color=GREEN, size=56, strokeWidth=1.2),
    "PT": dict(shape="triangle-up", filled=False, color=PURPLE, size=46, strokeWidth=1.1),
    "PD": dict(shape="diamond", filled=True, color=DPURPLE, size=40),
    "KC": dict(shape="circle", filled=True, fill="#2a1a5c", stroke="#000000", strokeWidth=1, size=38),
    "LB": dict(shape="circle", filled=False, color=LBLUE, size=42, strokeWidth=1.3),
}


def panel(i):
    name = NAMES[i]
    last = i == len(NAMES) - 1
    step = Y_LABEL_STEP[i]
    xaxis = alt.Axis(
        values=X_TICKS, labelExpr="datum.value % 2 == 0 ? datum.value : ''",
        title="Year" if last else None, grid=False, tickSize=6, labelPadding=4,
        labelFlush=False, labelOverlap=False, labelFontSize=18, titleFontSize=19,
        titlePadding=16, titleFontWeight="normal",
    )
    yaxis = alt.Axis(
        values=Y_TICKS[i], labelExpr=f"datum.value % {step} == 0 ? datum.value : ''",
        title="ppt", grid=False, tickSize=6, labelPadding=3, labelOverlap=False,
        labelFontSize=18, titleFontSize=19, titleFontWeight="normal",
        minExtent=40, maxExtent=40, titlePadding=16,
    )
    xs = alt.Scale(domain=[1992, 2000], nice=False, zero=False)
    ys = alt.Scale(domain=[0, YMAX[i]], nice=False, zero=True)
    layers = []
    for key, pts in SERIES[name]:
        df = pd.DataFrame(pts, columns=["year", "ppt"])
        st = dict(STYLE[key])
        layers.append(
            alt.Chart(df).mark_point(opacity=1, **st).encode(
                x=alt.X("year:Q", scale=xs, axis=xaxis),
                y=alt.Y("ppt:Q", scale=ys, axis=yaxis),
            )
        )
    lx, ly = LABEL_POS[i]
    lab = alt.Chart(pd.DataFrame({"label": [name]})).mark_text(
        align="left", baseline="alphabetic", fontSize=29, font=FONT, color="black"
    ).encode(x=alt.value(lx), y=alt.value(ly), text="label:N")
    layers.append(lab)
    return alt.layer(*layers).properties(width=502, height=234)


chart = alt.vconcat(*[panel(i) for i in range(5)], spacing=68, bounds="flush").properties(
    padding={"left": 3, "top": 0, "right": 0, "bottom": 0}
).configure_view(stroke=None).configure_axis(
    labelFont=FONT, titleFont=FONT, labelColor="black", titleColor="black",
    domainColor="black", tickColor="black", domainWidth=1, tickWidth=1,
).configure(background="white")

chart.save("out.html", embed_options={"renderer": "svg", "actions": False})
